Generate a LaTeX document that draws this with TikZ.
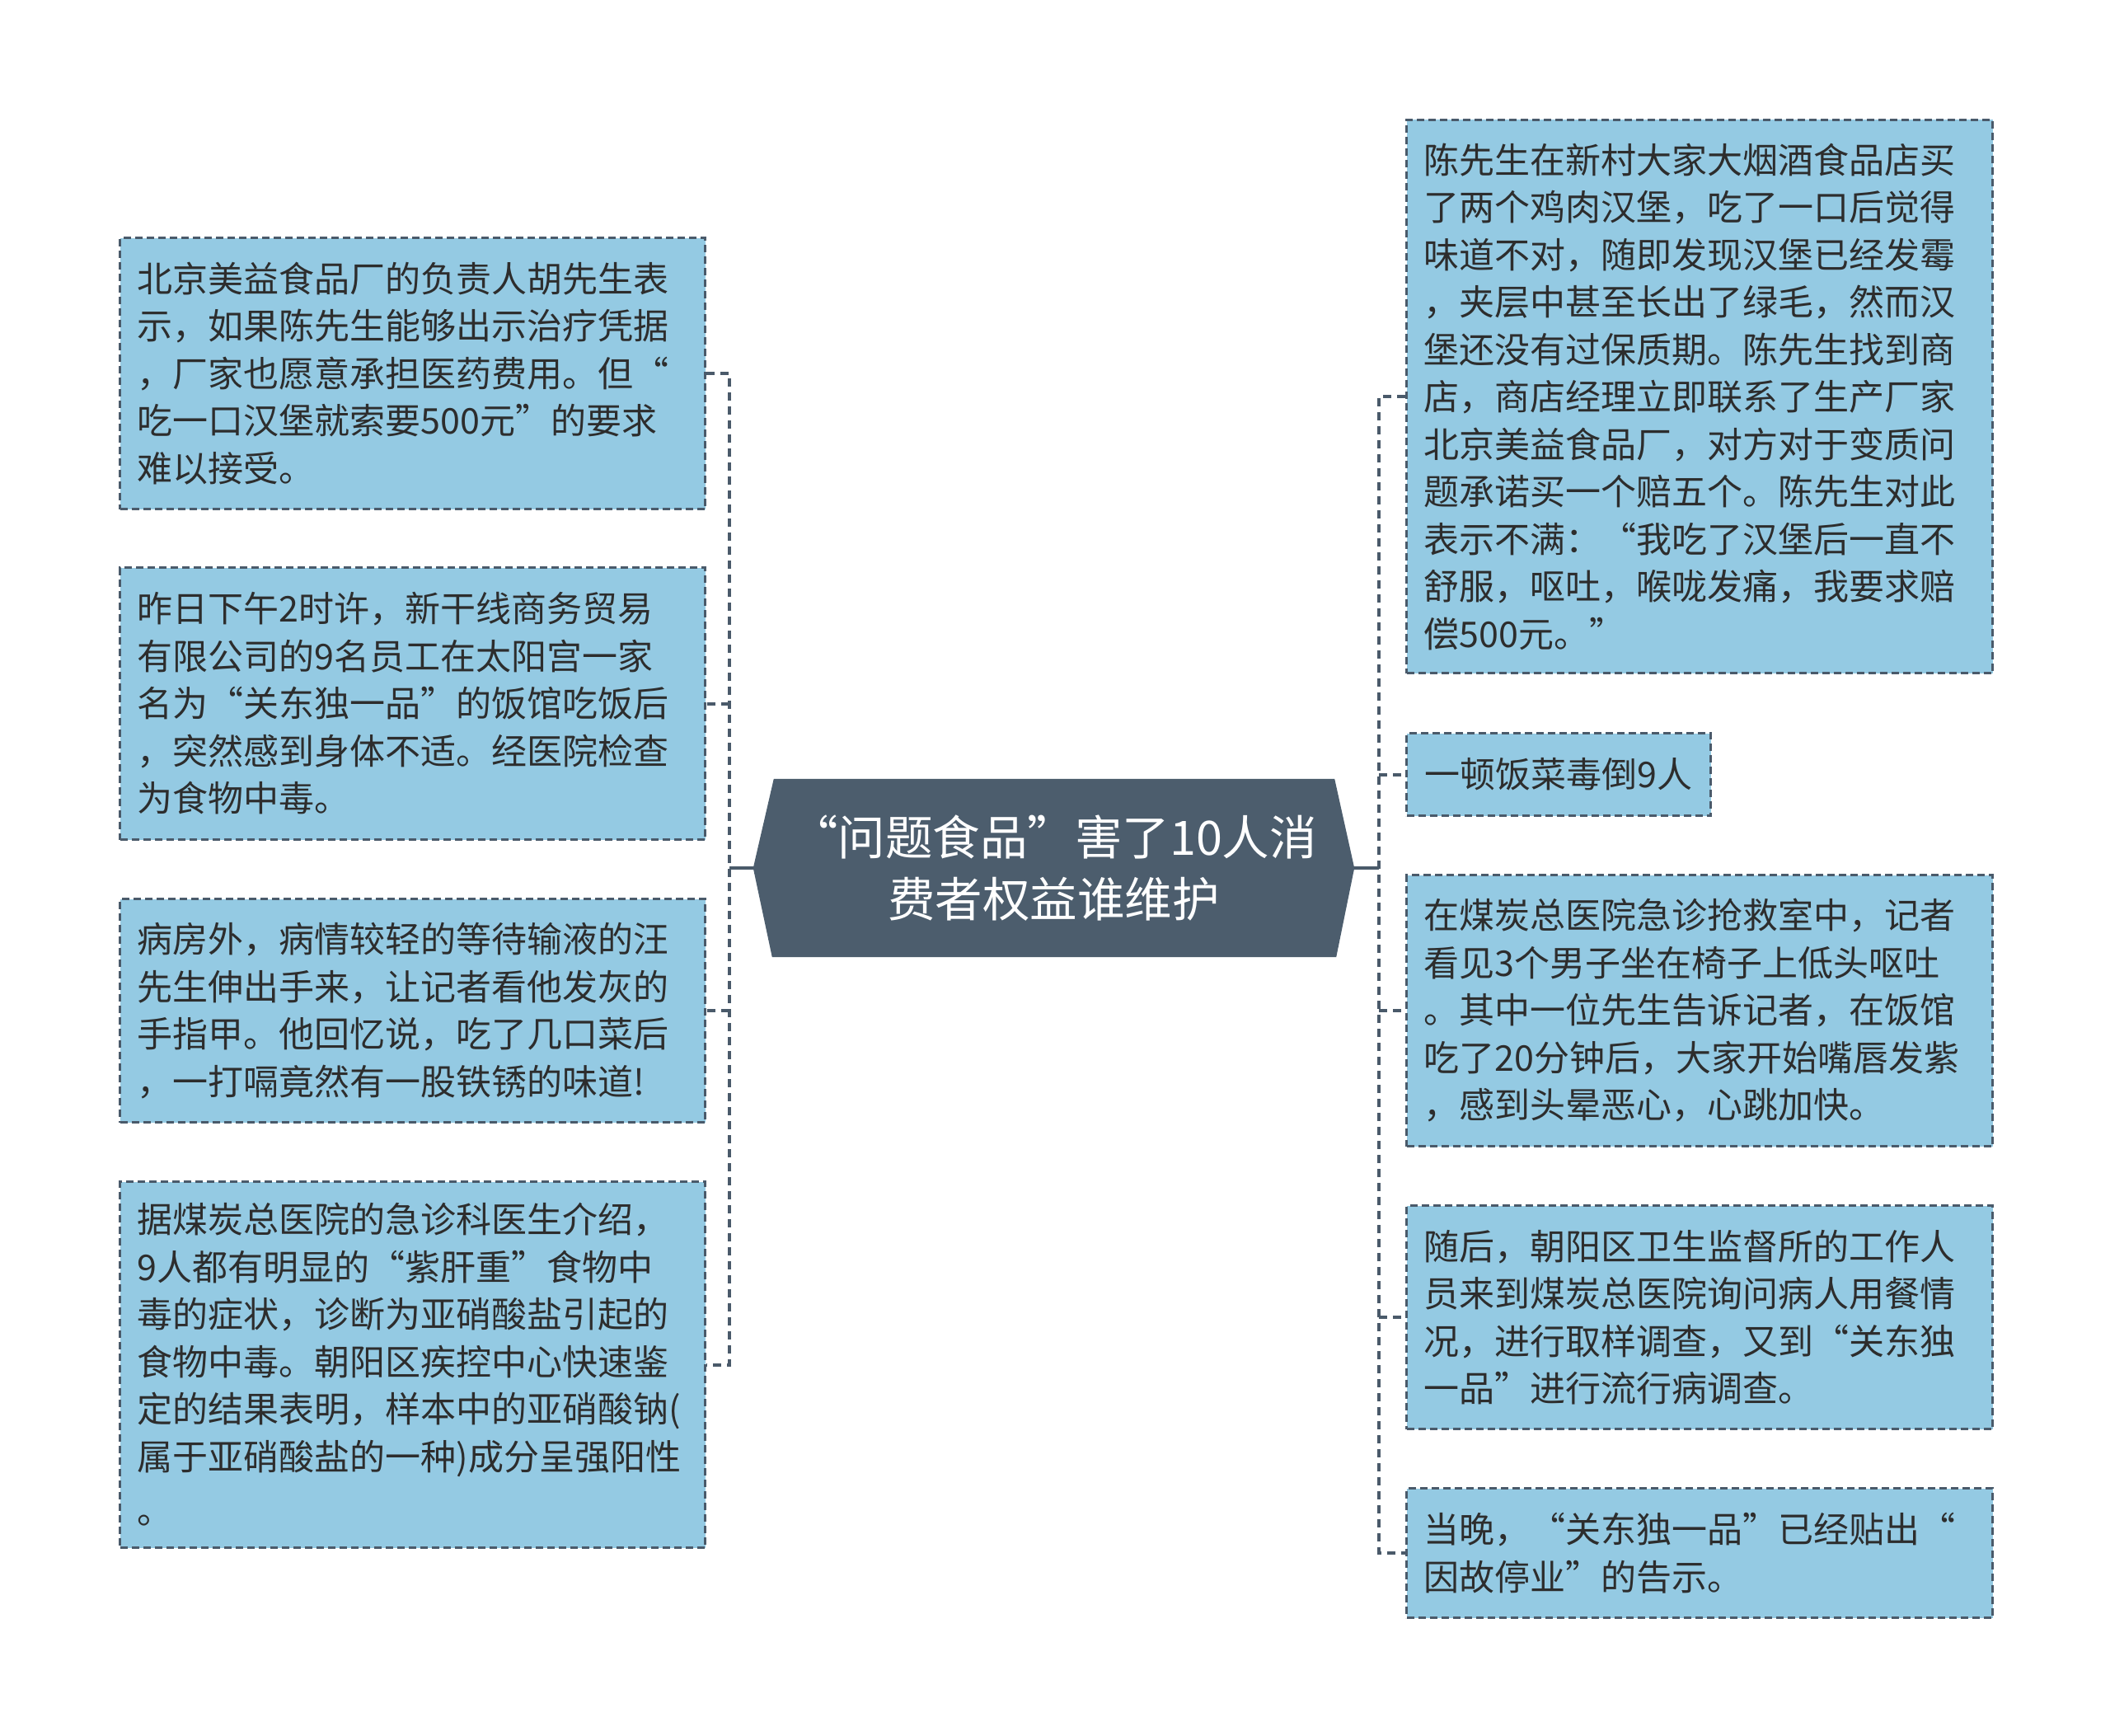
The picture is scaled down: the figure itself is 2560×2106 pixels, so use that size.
\documentclass[tikz,border=0pt]{standalone}
\usepackage{fontspec}
\newfontfamily\cjk{Noto Sans CJK SC}
\usetikzlibrary{backgrounds}
\definecolor{boxfill}{RGB}{148,202,227}
\definecolor{edge}{RGB}{74,90,106}
\definecolor{hub}{RGB}{76,93,109}
\definecolor{ink}{RGB}{45,45,45}
\begin{document}
\begin{tikzpicture}[x=1pt,y=-1pt,
  leaf/.style={draw=edge, line width=3pt, dash pattern=on 9pt off 5pt, fill=boxfill, text=ink,
    font=\cjk\fontsize{43}{57.5}\selectfont, align=left, inner xsep=21pt, inner ysep=0pt,
    anchor=north west, text width=668pt},
  conn/.style={draw=edge, line width=4pt, dash pattern=on 10pt off 7pt},
  stub/.style={draw=edge, line width=3.5pt},
  hubnode/.style={text=white, font=\cjk\fontsize{57.5}{75}\selectfont, align=center,
    minimum width=729pt, minimum height=216pt, inner sep=0pt}
]
\useasboundingbox (0,0) rectangle (2560,2106);

% central node
\node[hubnode] (c) at (1278.5,1053) {“问题食品”害了10人消\\费者权益谁维护};
\begin{scope}[on background layer]
\fill[hub] (c.west) -- ([xshift=25pt]c.north west) -- ([xshift=-24pt]c.north east) -- (c.east)
  -- ([xshift=-22pt]c.south east) -- ([xshift=23pt]c.south west) -- cycle;
\end{scope}

% left boxes
\node[leaf, minimum height=329pt] (l1) at (144,287) {北京美益食品厂的负责人胡先生表\\示，如果陈先生能够出示治疗凭据\\，厂家也愿意承担医药费用。但“\\吃一口汉堡就索要500元”的要求\\难以接受。};
\node[leaf, minimum height=330pt] (l2) at (144,687) {昨日下午2时许，新干线商务贸易\\有限公司的9名员工在太阳宫一家\\名为“关东独一品”的饭馆吃饭后\\，突然感到身体不适。经医院检查\\为食物中毒。};
\node[leaf, minimum height=271pt] (l3) at (144,1089) {病房外，病情较轻的等待输液的汪\\先生伸出手来，让记者看他发灰的\\手指甲。他回忆说，吃了几口菜后\\，一打嗝竟然有一股铁锈的味道!};
\node[leaf, minimum height=444pt] (l4) at (144,1432) {据煤炭总医院的急诊科医生介绍，\\9人都有明显的“紫肝重”食物中\\毒的症状，诊断为亚硝酸盐引起的\\食物中毒。朝阳区疾控中心快速鉴\\定的结果表明，样本中的亚硝酸钠(\\属于亚硝酸盐的一种)成分呈强阳性\\[8pt]。};

% right boxes
\node[leaf, minimum height=671pt, text width=669pt] (r1) at (1705,144) {陈先生在新村大家大烟酒食品店买\\了两个鸡肉汉堡，吃了一口后觉得\\味道不对，随即发现汉堡已经发霉\\，夹层中甚至长出了绿毛，然而汉\\堡还没有过保质期。陈先生找到商\\店，商店经理立即联系了生产厂家\\北京美益食品厂，对方对于变质问\\题承诺买一个赔五个。陈先生对此\\表示不满：“我吃了汉堡后一直不\\舒服，呕吐，喉咙发痛，我要求赔\\偿500元。”};
\node[leaf, minimum height=100pt, text width=325pt, inner xsep=22pt] (r2) at (1705,888) {一顿饭菜毒倒9人};
\node[leaf, minimum height=329pt, text width=669pt] (r3) at (1705,1060) {在煤炭总医院急诊抢救室中，记者\\看见3个男子坐在椅子上低头呕吐\\。其中一位先生告诉记者，在饭馆\\吃了20分钟后，大家开始嘴唇发紫\\，感到头晕恶心，心跳加快。};
\node[leaf, minimum height=271pt, text width=669pt] (r4) at (1705,1461) {随后，朝阳区卫生监督所的工作人\\员来到煤炭总医院询问病人用餐情\\况，进行取样调查，又到“关东独\\一品”进行流行病调查。};
\node[leaf, minimum height=157pt, text width=669pt] (r5) at (1705,1804) {当晚，“关东独一品”已经贴出“\\因故停业”的告示。};

% connectors
\coordinate (lt) at (885,1053);
\coordinate (rt) at (1673,1053);
\draw[stub] (c.west) -- (lt);
\draw[conn] (l1.east) -- (l1.east -| lt) -- (l4.east -| lt) -- (l4.east);
\draw[conn] (l2.east -| lt) -- (l2.east);
\draw[conn] (l3.east -| lt) -- (l3.east);
\draw[stub] (c.east) -- (rt);
\draw[conn] (r1.west) -- (r1.west -| rt) -- (r5.west -| rt) -- (r5.west);
\draw[conn] (r2.west -| rt) -- (r2.west);
\draw[conn] (r3.west -| rt) -- (r3.west);
\draw[conn] (r4.west -| rt) -- (r4.west);
\end{tikzpicture}
\end{document}
